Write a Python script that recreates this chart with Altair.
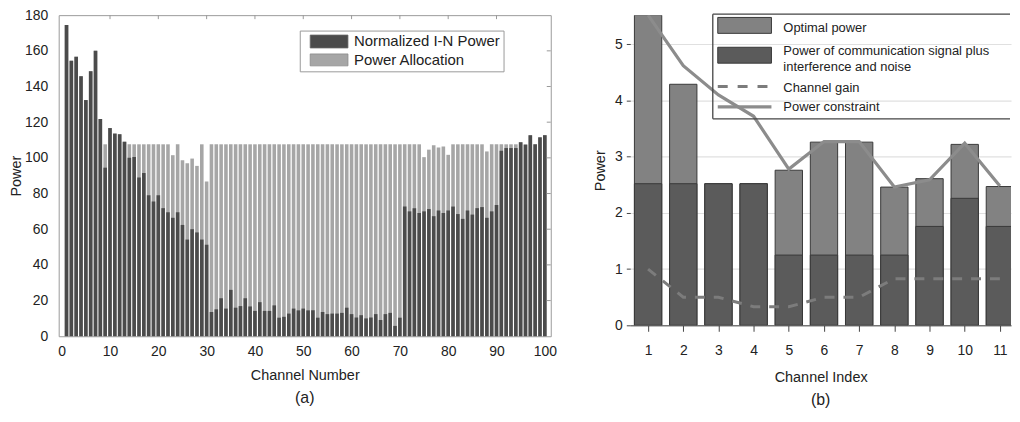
import altair as alt
import pandas as pd

FONT = "Liberation Sans"
INK = "#222222"

# ---------------- panel (a) data ----------------
channel_numbers = list(range(1, 101))
ni_power = [
    174.5, 154.5, 156.7, 145.8, 132.4, 148.6, 160.0, 121.8, 94.5, 116.7,
    113.6, 113.3, 109.1, 100.0, 100.5, 89.0, 91.5, 79.1, 75.5, 79.0,
    71.8, 69.5, 66.4, 69.5, 62.4, 54.2, 60.0, 58.2, 54.2, 51.3,
    13.6, 15.1, 21.3, 15.5, 26.0, 16.0, 16.9, 21.3, 16.7, 14.2,
    19.1, 14.2, 14.2, 17.3, 10.4, 10.9, 12.7, 15.5, 14.5, 15.5,
    14.5, 14.5, 10.4, 13.6, 12.4, 12.7, 12.7, 13.1, 16.0, 12.4,
    10.5, 11.8, 10.0, 10.5, 12.4, 9.1, 12.4, 13.1, 5.8, 10.4,
    72.7, 70.0, 71.8, 69.1, 70.0, 71.3, 67.3, 70.5, 69.1, 70.5,
    72.7, 68.5, 65.8, 70.5, 68.2, 71.8, 72.4, 66.4, 70.0, 73.6,
    104.0, 105.5, 105.5, 105.5, 108.7, 107.3, 112.7, 107.6, 111.5, 112.7,
]
alloc_total = [
    174.5, 154.5, 156.7, 145.8, 132.4, 148.6, 160.0, 121.8, 107.6, 116.7,
    113.6, 113.3, 109.1, 107.6, 107.6, 107.6, 107.6, 107.6, 107.6, 107.6,
    107.6, 107.6, 101.5, 107.6, 98.6, 97.0, 99.6, 95.5, 107.6, 86.7,
    107.6, 107.6, 107.6, 107.6, 107.6, 107.6, 107.6, 107.6, 107.6, 107.6,
    107.6, 107.6, 107.6, 107.6, 107.6, 107.6, 107.6, 107.6, 107.6, 107.6,
    107.6, 107.6, 107.6, 107.6, 107.6, 107.6, 107.6, 107.6, 107.6, 107.6,
    107.6, 107.6, 107.6, 107.6, 107.6, 107.6, 107.6, 107.6, 107.6, 107.6,
    107.6, 107.6, 107.6, 107.6, 100.4, 104.6, 107.0, 105.8, 106.4, 101.7,
    107.6, 107.6, 107.6, 107.6, 107.6, 107.6, 107.6, 103.6, 107.6, 107.6,
    107.6, 107.6, 107.6, 107.6, 108.7, 107.6, 112.7, 107.6, 111.5, 112.7,
]
xa_ticks = [0, 10, 20, 30, 40, 50, 60, 70, 80, 90, 100]
ya_ticks = [0, 20, 40, 60, 80, 100, 120, 140, 160, 180]
legend_a_labels = ["Normalized I-N Power", "Power Allocation"]

# ---------------- panel (b) data ----------------
channel_index = [1, 2, 3, 4, 5, 6, 7, 8, 9, 10, 11]
optimal_total = [5.52, 4.29, 2.52, 2.52, 2.76, 3.26, 3.26, 2.46, 2.61, 3.22, 2.47]
signal_noise = [2.52, 2.52, 2.52, 2.52, 1.25, 1.25, 1.25, 1.25, 1.76, 2.26, 1.76]
channel_gain = [1.0, 0.5, 0.5, 0.33, 0.33, 0.5, 0.5, 0.83, 0.83, 0.83, 0.83]
power_constraint = [5.52, 4.62, 4.1, 3.72, 2.78, 3.27, 3.27, 2.46, 2.59, 3.24, 2.48]
yb_ticks = [0, 1, 2, 3, 4, 5]
legend_b_labels = [
    "Optimal power",
    "Power of communication signal plus",
    "interference and noise",
    "Channel gain",
    "Power constraint",
]

DARK_A, LIGHT_A = "#4b4b4b", "#a6a6a6"
LIGHT_B, DARK_B, EDGE_B = "#828282", "#5b5b5b", "#383838"
GAIN_C, CONS_C = "#7c7c7c", "#8c8c8c"

one = pd.DataFrame({"k": [0]})


def txt(label, x, y, size):
    return alt.Chart(one).mark_text(
        text=label, align="left", baseline="middle", font=FONT,
        fontSize=size, color=INK
    ).encode(x=alt.value(x), y=alt.value(y))


def box(x, x2, y, y2, fill, stroke, sw=1.0):
    return alt.Chart(one).mark_rect(
        fill=fill, stroke=stroke, strokeWidth=sw
    ).encode(x=alt.value(x), x2=alt.value(x2), y=alt.value(y), y2=alt.value(y2))


def hline(x, x2, y, color, sw, dash=None):
    kw = dict(color=color, strokeWidth=sw)
    if dash:
        kw["strokeDash"] = dash
    return alt.Chart(one).mark_rule(**kw).encode(
        x=alt.value(x), x2=alt.value(x2), y=alt.value(y)
    )


# ---------------- panel (a) ----------------
WA, HA = 495, 323
xa_scale = alt.Scale(domain=[-0.62, 101.23], nice=False, zero=False, padding=0)
ya_scale = alt.Scale(domain=[0, 180], nice=False, padding=0)

xa_axis = alt.Axis(values=xa_ticks, title="Channel Number", tickSize=0, ticks=False,
                   domain=False, grid=False, labelPadding=8, titlePadding=11,
                   labelFontSize=14, titleFontSize=14.5, labelColor=INK,
                   titleColor=INK, titleFontWeight="normal", labelFont=FONT,
                   titleFont=FONT)
ya_axis = alt.Axis(values=ya_ticks, title="Power", tickSize=0, ticks=False,
                   domain=False, grid=False, labelPadding=11, titlePadding=1,
                   labelFontSize=14, titleFontSize=14.5, labelColor=INK,
                   titleColor=INK, titleFontWeight="normal", labelFont=FONT,
                   titleFont=FONT)
XA = alt.X("channel:Q", scale=xa_scale, axis=xa_axis)
YA = alt.Y("value:Q", scale=ya_scale, axis=ya_axis)

df_total = pd.DataFrame({"channel": channel_numbers, "value": alloc_total})
df_ni = pd.DataFrame({"channel": channel_numbers, "value": ni_power})

bars_total = alt.Chart(df_total).mark_bar(width=3.6, color=LIGHT_A).encode(x=XA, y=YA)
bars_ni = alt.Chart(df_ni).mark_bar(width=3.6, color=DARK_A).encode(x=XA, y=YA)
top_ticks = alt.Chart(pd.DataFrame({"channel": xa_ticks[1:-1]})).mark_rule(
    color="#999999", strokeWidth=1).encode(x=XA, y=alt.value(0), y2=alt.value(4))
right_ticks = alt.Chart(pd.DataFrame({"value": ya_ticks[1:-1]})).mark_rule(
    color="#999999", strokeWidth=1).encode(y=YA, x=alt.value(WA - 4), x2=alt.value(WA))

legend_a = [
    box(243, 448, 16, 57, "white", "#999999"),
    box(253, 291, 20, 33, DARK_A, "#6a6a6a", 0.8),
    box(253, 291, 39, 51, LIGHT_A, "#8a8a8a", 0.8),
    txt(legend_a_labels[0], 297, 26.5, 15),
    txt(legend_a_labels[1], 297, 45.5, 15),
]

left = alt.layer(bars_total, bars_ni, top_ticks, right_ticks, *legend_a).properties(
    width=WA, height=HA,
    view=alt.ViewBackground(stroke="#9a9a9a", strokeWidth=1),
    title=alt.TitleParams("(a)", orient="bottom", fontSize=16, fontWeight="normal",
                          font=FONT, color=INK, offset=8, frame="group"),
)

# ---------------- panel (b) ----------------
WB, HB = 383, 312
xb_scale = alt.Scale(domain=[0.494, 11.316], nice=False, zero=False, padding=0)
yb_scale = alt.Scale(domain=[0, 5.52], nice=False, padding=0)

xb_axis = alt.Axis(values=channel_index, title="Channel Index", tickSize=6,
                   tickColor="#444444", domain=True, domainColor="#444444",
                   grid=False, labelPadding=12, titlePadding=14, labelFontSize=14,
                   titleFontSize=14.5, labelColor=INK, titleColor=INK,
                   titleFontWeight="normal", labelFont=FONT, titleFont=FONT)
yb_axis = alt.Axis(values=yb_ticks, title="Power", tickSize=4, tickColor="#444444",
                   domain=False, grid=True, gridColor="#e0e0e0", gridWidth=1.2,
                   labelPadding=4, titlePadding=7, labelFontSize=14,
                   titleFontSize=14.5, labelColor=INK, titleColor=INK,
                   titleFontWeight="normal", labelFont=FONT, titleFont=FONT)
XB = alt.X("channel:Q", scale=xb_scale, axis=xb_axis)
YB = alt.Y("value:Q", scale=yb_scale, axis=yb_axis)

df_opt = pd.DataFrame({"channel": channel_index, "value": optimal_total})
df_sig = pd.DataFrame({"channel": channel_index, "value": signal_noise})
df_gain = pd.DataFrame({"channel": channel_index, "value": channel_gain})
df_cons = pd.DataFrame({"channel": channel_index, "value": power_constraint})

bars_opt = alt.Chart(df_opt).mark_bar(width=27.5, fill=LIGHT_B, stroke=EDGE_B,
                                      strokeWidth=1, clip=True).encode(x=XB, y=YB)
bars_sig = alt.Chart(df_sig).mark_bar(width=27.5, fill=DARK_B, stroke=EDGE_B,
                                      strokeWidth=1, clip=True).encode(x=XB, y=YB)
gain_line = alt.Chart(df_gain).mark_line(color=GAIN_C, strokeWidth=3,
                                         strokeDash=[10, 9], clip=True).encode(x=XB, y=YB)
cons_line = alt.Chart(df_cons).mark_line(color=CONS_C, strokeWidth=3.2,
                                         clip=True).encode(x=XB, y=YB)

legend_b = [
    hline(83, WB - 1, -1, "#444444", 1.3),
    hline(83, WB - 1, 104.3, "#444444", 1.3),
    alt.Chart(one).mark_rule(color="#444444", strokeWidth=1.3).encode(
        x=alt.value(83), y=alt.value(-1), y2=alt.value(104.3)),
    box(88, 142, 2.3, 18.3, LIGHT_B, EDGE_B, 1),
    box(88, 142, 32.3, 48.3, DARK_B, EDGE_B, 1),
    hline(88, 142, 71.7, GAIN_C, 3, [10, 10]),
    hline(88, 142, 92.3, CONS_C, 3.2),
    txt(legend_b_labels[0], 154, 13, 13),
    txt(legend_b_labels[1], 154, 35.7, 13),
    txt(legend_b_labels[2], 154, 51.7, 13),
    txt(legend_b_labels[3], 154, 73.7, 13),
    txt(legend_b_labels[4], 154, 92.3, 13),
]

right = alt.layer(bars_opt, bars_sig, gain_line, cons_line, *legend_b).properties(
    width=WB, height=HB,
    title=alt.TitleParams("(b)", orient="bottom", fontSize=16, fontWeight="normal",
                          font=FONT, color=INK, offset=8, frame="group"),
)

chart = (
    alt.hconcat(left, right, spacing=34)
    .properties(padding={"top": -2, "left": 0, "right": 0, "bottom": 0})
    .configure(font=FONT)
    .configure_view(stroke="transparent")
)

chart.save("out.html", embed_options={"renderer": "svg", "actions": False})
